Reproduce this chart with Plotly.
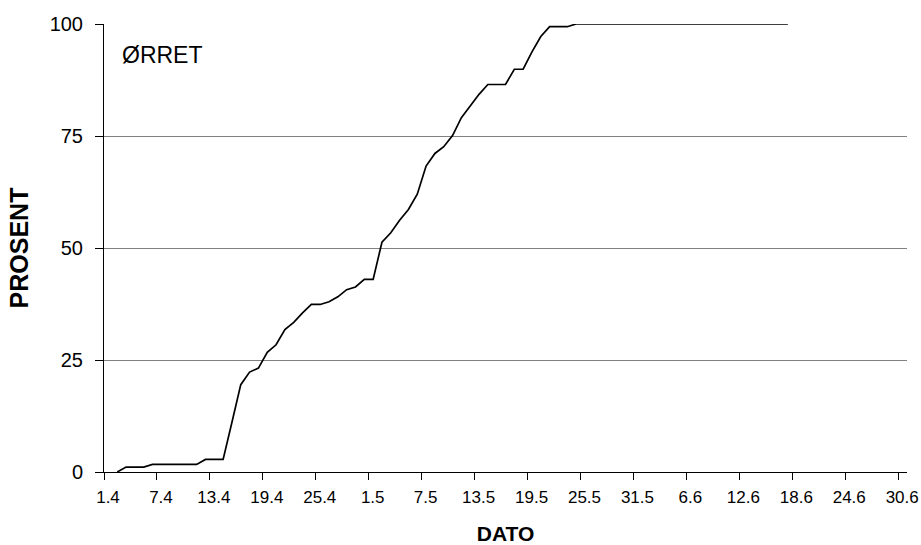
import plotly.graph_objects as go

# Daily categories 1.4 .. 30.6
dates = ([f"{d}.4" for d in range(1, 31)] +
         [f"{d}.5" for d in range(1, 32)] +
         [f"{d}.6" for d in range(1, 31)])

# Cumulative percentage (ØRRET), one value per day starting 1.4
percent = [None, 0, 1.1, 1.1, 1.1, 1.7, 1.7, 1.7, 1.7, 1.7,
           1.7, 2.8, 2.8, 2.8, 11.1, 19.5, 22.3, 23.2, 26.7, 28.4,
           31.8, 33.4, 35.5, 37.4, 37.4, 38.0, 39.1, 40.7, 41.3, 43.0,
           43.0, 51.3, 53.4, 56.2, 58.6, 62.0, 68.3, 71.1, 72.6, 75.1,
           79.1, 81.7, 84.3, 86.5, 86.5, 86.5, 89.9, 89.9, 93.8, 97.2,
           99.4, 99.4, 99.4, 100, 100, 100, 100, 100, 100, 100,
           100, 100, 100, 100, 100, 100, 100, 100, 100, 100,
           100, 100, 100, 100, 100, 100, 100, 100]

x_tick_labels = ["1.4", "7.4", "13.4", "19.4", "25.4", "1.5", "7.5", "13.5",
                 "19.5", "25.5", "31.5", "6.6", "12.6", "18.6", "24.6", "30.6"]
y_ticks = [0, 25, 50, 75, 100]

FONT = "Liberation Sans, Arial, sans-serif"

x_idx = list(range(len(percent)))
# ticks sit on category boundaries, labels centred on the category
tick_pos = [dates.index(t) - 0.5 for t in x_tick_labels]

fig = go.Figure()
fig.add_trace(go.Scatter(
    x=x_idx, y=percent, mode="lines",
    line=dict(color="black", width=1.7),
    connectgaps=False, showlegend=False, hoverinfo="skip"))

fig.add_annotation(text="ØRRET", xref="paper", yref="paper",
                   x=0.02, y=0.93, xanchor="left", yanchor="middle",
                   showarrow=False, font=dict(family=FONT, size=23, color="black"))

fig.update_layout(
    width=921, height=545,
    margin=dict(l=104, r=14, t=24, b=73),
    paper_bgcolor="white", plot_bgcolor="white",
    font=dict(family=FONT, color="black"),
    xaxis=dict(
        automargin=False,
        range=[-0.5, len(dates) - 0.5],
        tickmode="array", tickvals=tick_pos, ticktext=x_tick_labels,
        ticks="outside", ticklen=7, tickcolor="black", tickwidth=1,
        ticklabelshift=4, ticklabelstandoff=3,
        tickfont=dict(family=FONT, size=17, color="black"),
        showline=True, linecolor="black", linewidth=1,
        showgrid=False, zeroline=False,
        title=dict(text="<b>DATO</b>", standoff=21,
                   font=dict(family=FONT, size=21, color="black")),
    ),
    yaxis=dict(
        automargin=False,
        range=[0, 100],
        tickmode="array", tickvals=y_ticks,
        ticks="outside", ticklen=8, tickcolor="black", tickwidth=1,
        ticklabelstandoff=8,
        tickfont=dict(family=FONT, size=20, color="black"),
        showline=True, linecolor="black", linewidth=1,
        showgrid=True, gridcolor="#808080", gridwidth=1,
        zeroline=False,
        title=dict(text="<b>PROSENT</b>", standoff=13,
                   font=dict(family=FONT, size=25, color="black")),
    ),
)

fig.write_html(
    "out.html",
    config={"displayModeBar": False},
    post_script="document.body.style.margin='0';document.body.style.overflow='hidden';",
)
